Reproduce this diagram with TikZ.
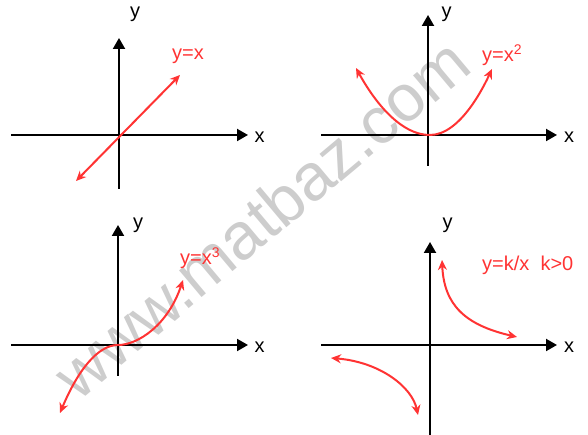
\documentclass[tikz,border=0pt]{standalone}
\usepackage{fontspec}
\setmainfont{Liberation Sans}
\usetikzlibrary{arrows.meta}
\definecolor{curvered}{RGB}{255,51,51}
\definecolor{markgray}{RGB}{205,205,205}

\begin{document}
\begin{tikzpicture}[x=1pt,y=1pt,
        axis/.style={line width=2pt,-{Triangle[length=11pt,width=12pt]}},
        graph/.style={line width=2pt,curvered,{Stealth[length=10pt,width=9pt]}-{Stealth[length=10pt,width=9pt]}},
        lbl/.style={font=\fontsize{20}{20}\selectfont,inner sep=0pt},
        fn/.style={lbl,text=curvered,anchor=base west}]
    \useasboundingbox (0,0) rectangle (588,435);

    % watermark
    \node[font=\fontsize{66}{66}\selectfont,text=markgray,rotate=40] (mark) at (261,217) {www.matbaz.com};

    % y = x
    \begin{scope}[shift={(119,300)}]
        \coordinate (L1) at (-108,0);
        \coordinate (R1) at (129,0);
        \coordinate (D1) at (0,-54);
        \coordinate (U1) at (0,97);
        \coordinate (P1) at (-43,-46);
        \coordinate (Q1) at (61,60);
        \draw[axis] (L1) -- (R1);
        \draw[axis] (D1) -- (U1);
        \draw[graph] (P1) -- (Q1);
        \node[lbl] (x1) at (140.5,-2) {x};
        \node[lbl] (y1) at (16,120.5) {y};
        \node[fn] (f1) at (53,75) {y=x};
    \end{scope}

    % y = x^2
    \begin{scope}[shift={(428,300)}]
        \coordinate (L2) at (-107,0);
        \coordinate (R2) at (129,0);
        \coordinate (D2) at (0,-31);
        \coordinate (U2) at (0,120);
        \coordinate (P2) at (-72,67);
        \coordinate (V2) at (2,0);
        \coordinate (Q2) at (64,66);
        \draw[axis] (L2) -- (R2);
        \draw[axis] (D2) -- (U2);
        \draw[graph] (P2) parabola bend (V2) (Q2);
        \node[lbl] (x2) at (141,-2.5) {x};
        \node[lbl] (y2) at (18.5,121) {y};
        \node[fn] (f2) at (54,73) {y=x\textsuperscript{2}};
    \end{scope}

    % y = x^3
    \begin{scope}[shift={(118,90)}]
        \coordinate (L3) at (-107,0);
        \coordinate (R3) at (130,0);
        \coordinate (D3) at (0,-31);
        \coordinate (U3) at (0,120);
        \coordinate (P3) at (-58,-68);
        \coordinate (O3) at (0,0);
        \coordinate (Q3) at (65,65);
        \draw[axis] (L3) -- (R3);
        \draw[axis] (D3) -- (U3);
        \draw[graph] (P3) .. controls (-40,-25) and (-20,0) .. (O3)
            .. controls (20,0) and (50,20) .. (Q3);
        \node[lbl] (x3) at (141.5,-2.5) {x};
        \node[lbl] (y3) at (20,120) {y};
        \node[fn] (f3) at (62,80) {y=x\textsuperscript{3}};
    \end{scope}

    % y = k/x
    \begin{scope}[shift={(430,90)}]
        \coordinate (L4) at (-109,0);
        \coordinate (R4) at (127,0);
        \coordinate (D4) at (0,-90);
        \coordinate (U4) at (0,103);
        \coordinate (P4) at (12,85);
        \coordinate (Q4) at (87,8);
        \coordinate (S4) at (-99,-13);
        \coordinate (T4) at (-12,-70);
        \draw[axis] (L4) -- (R4);
        \draw[axis] (D4) -- (U4);
        \draw[graph] (P4) .. controls (14,40) and (35,20) .. (Q4);
        \draw[graph] (S4) .. controls (-50,-17) and (-18,-42) .. (T4);
        \node[lbl] (x4) at (139,-2.5) {x};
        \node[lbl] (y4) at (17.5,119.5) {y};
        \node[fn] (f4) at (52,74) {y=k/x\ \ k>0};
    \end{scope}
\end{tikzpicture}
\end{document}
